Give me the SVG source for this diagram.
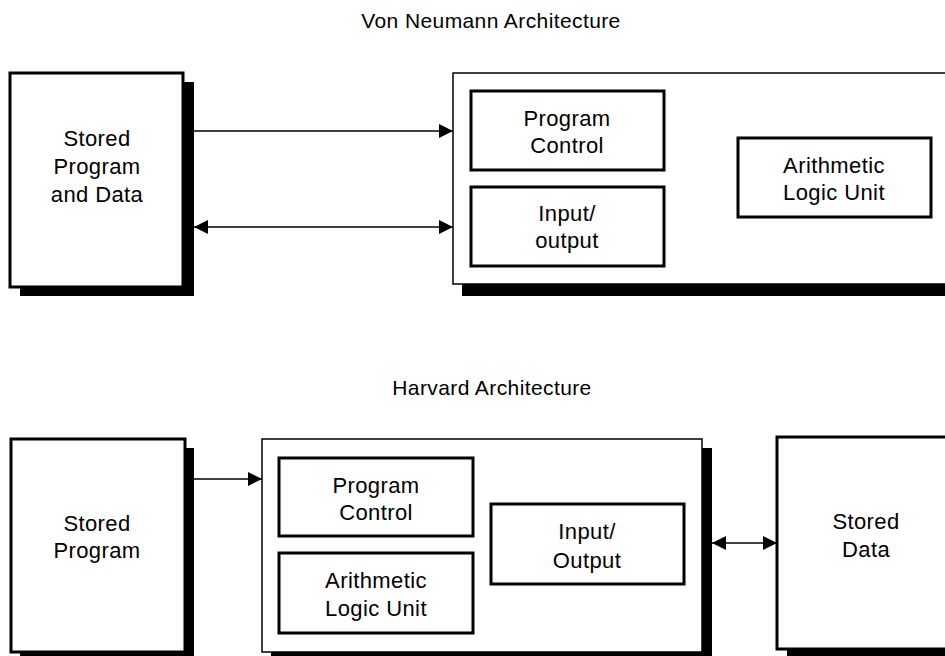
<svg xmlns="http://www.w3.org/2000/svg" width="945" height="656" viewBox="0 0 945 656">
<style>
.bg{fill:#fff}
.shadow{fill:#000}
.thick{fill:#fff;stroke:#000;stroke-width:3}
.thin{fill:#fff;stroke:#000;stroke-width:1.5}
.lbl{font-family:"Liberation Sans",Arial,sans-serif;font-size:22px;letter-spacing:0.4px;text-anchor:middle;fill:#000}
.title{font-family:"Liberation Sans",Arial,sans-serif;font-size:21px;letter-spacing:0.4px;text-anchor:middle;fill:#000}
.conn{stroke:#000;stroke-width:1.5;fill:none}
</style>
<defs>
<marker id="arr" viewBox="0 0 14 14" refX="14" refY="7" markerWidth="14" markerHeight="15" markerUnits="userSpaceOnUse" orient="auto-start-reverse">
<path d="M0,0 L14,7 L0,14 z" fill="#000"/>
</marker>
</defs>
<rect class="bg" x="0" y="0" width="945" height="656"/>
<text class="title" x="491" y="28">Von Neumann Architecture</text>
<text class="title" x="492" y="395">Harvard Architecture</text>

<g id="vn-memory">
<rect class="shadow" x="20" y="82" width="174" height="214"/>
<rect class="thick" x="10" y="73" width="173" height="214"/>
<text class="lbl" x="97" y="146">Stored</text>
<text class="lbl" x="97" y="174">Program</text>
<text class="lbl" x="97" y="202">and Data</text>
</g>

<g id="vn-cpu">
<rect class="shadow" x="462" y="82" width="500" height="214"/>
<rect class="thin" x="453" y="73" width="500" height="211"/>
</g>
<g id="vn-program-control">
<rect class="thick" x="471" y="91" width="193" height="79"/>
<text class="lbl" x="567" y="126">Program</text>
<text class="lbl" x="567" y="153">Control</text>
</g>
<g id="vn-io">
<rect class="thick" x="471" y="187" width="193" height="79"/>
<text class="lbl" x="567" y="221">Input/</text>
<text class="lbl" x="567" y="248">output</text>
</g>
<g id="vn-alu">
<rect class="thick" x="738" y="138" width="193" height="79"/>
<text class="lbl" x="834" y="173">Arithmetic</text>
<text class="lbl" x="834" y="200">Logic Unit</text>
</g>

<g id="h-program-memory">
<rect class="shadow" x="20" y="448" width="174" height="214"/>
<rect class="thick" x="11" y="439" width="174" height="213"/>
<text class="lbl" x="97" y="531">Stored</text>
<text class="lbl" x="97" y="558">Program</text>
</g>

<g id="h-cpu">
<rect class="shadow" x="271" y="448" width="441" height="214"/>
<rect class="thin" x="262" y="439" width="440" height="213"/>
</g>
<g id="h-program-control">
<rect class="thick" x="279" y="458" width="194" height="78"/>
<text class="lbl" x="376" y="493">Program</text>
<text class="lbl" x="376" y="520">Control</text>
</g>
<g id="h-alu">
<rect class="thick" x="279" y="553" width="194" height="80"/>
<text class="lbl" x="376" y="588">Arithmetic</text>
<text class="lbl" x="376" y="616">Logic Unit</text>
</g>
<g id="h-io">
<rect class="thick" x="491" y="504" width="193" height="80"/>
<text class="lbl" x="587" y="539">Input/</text>
<text class="lbl" x="587" y="568">Output</text>
</g>

<g id="h-data-memory">
<rect class="shadow" x="787" y="446" width="200" height="214"/>
<rect class="thick" x="777" y="437" width="200" height="212"/>
<text class="lbl" x="866" y="529">Stored</text>
<text class="lbl" x="866" y="557">Data</text>
</g>

<g id="connectors">
<line class="conn" x1="193" y1="131" x2="453" y2="131" marker-end="url(#arr)"/>
<line class="conn" x1="194" y1="227" x2="453" y2="227" marker-start="url(#arr)" marker-end="url(#arr)"/>
<line class="conn" x1="194" y1="479" x2="262" y2="479" marker-end="url(#arr)"/>
<line class="conn" x1="712" y1="543" x2="777" y2="543" marker-start="url(#arr)" marker-end="url(#arr)"/>
</g>
</svg>
